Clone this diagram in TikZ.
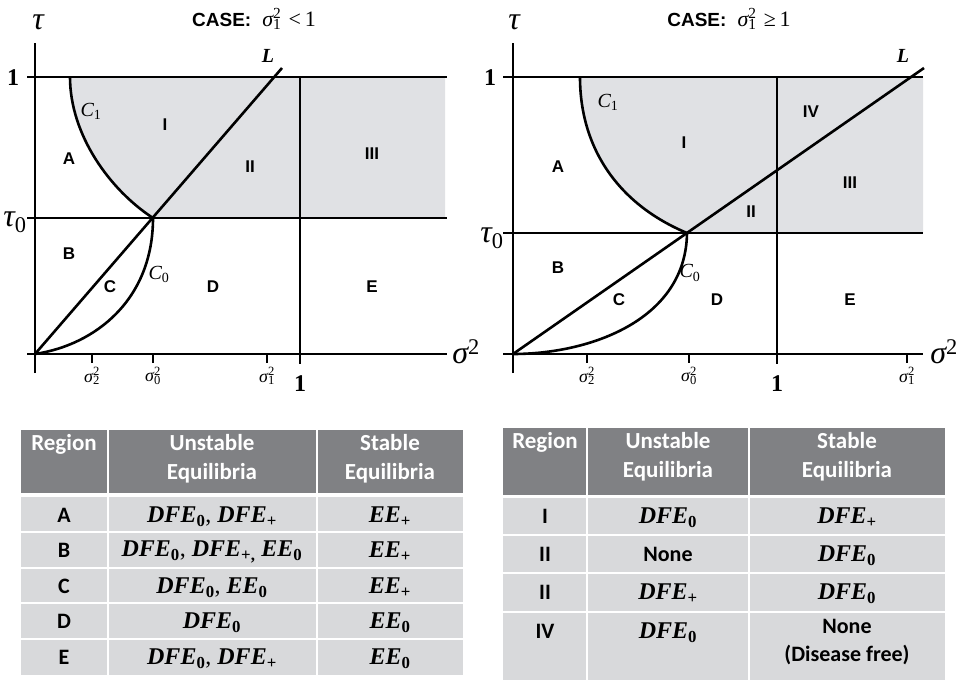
\documentclass[tikz,border=0pt]{standalone}
\usepackage{fontspec}
\setmainfont{Liberation Serif}
\setsansfont{Liberation Sans}
\newfontfamily\carl{Carlito}
\definecolor{shadegray}{RGB}{224,225,228}
\definecolor{hdrgray}{RGB}{128,129,132}
\definecolor{bodygray}{RGB}{216,217,219}
\newcommand\eqn[2]{\textbf{\textit{#1}}\textsubscript{\textbf{#2}}}
\newcommand\sigsq[1]{{\itshape σ}\makebox[0pt][l]{\textsuperscript{2}}\textsubscript{#1}}
\tikzset{
  axisline/.style={line width=2.8pt, line cap=butt},
  curveline/.style={line width=2.6pt},
  shaded/.style={fill=shadegray},
  reglabel/.style={font=\sffamily\bfseries\fontsize{17}{19}\selectfont, inner sep=0pt},
  axlabel/.style={font=\itshape\fontsize{32}{34}\selectfont, inner sep=0pt},
  onelabel/.style={font=\bfseries\fontsize{24}{26}\selectfont, inner sep=0pt},
  ticklabel/.style={font=\fontsize{18}{19}\selectfont, inner sep=0pt},
  curvelabel/.style={font=\itshape\fontsize{20}{22}\selectfont, inner sep=0pt},
  titlelabel/.style={font=\fontsize{22}{24}\selectfont, inner sep=0pt},
  hdrtext/.style={text=white, font=\carl\bfseries\fontsize{23}{29}\selectfont, align=center, inner sep=0pt, anchor=north},
  celltext/.style={font=\carl\bfseries\fontsize{22}{28}\selectfont, align=center, inner sep=0pt},
  eqtext/.style={font=\fontsize{24}{26}\selectfont, inner sep=0pt},
  sepline/.style={white, line width=2pt},
}
\begin{document}
\begin{tikzpicture}[x=1pt,y=-1pt]
\useasboundingbox (0,0) rectangle (959,680);
\fill[white] (0,0) rectangle (959,680);

% ================= LEFT PLOT =================
\coordinate (lO) at (35,354);
\coordinate (lJ) at (153,218);
\coordinate (lC1top) at (70,77);
\coordinate (lLend) at (282,68);
\fill[shaded] (lC1top) .. controls (70,135) and (110,190) .. (lJ) -- (445,218) -- (445,77) -- cycle;
\coordinate (lyb) at (35,373); \coordinate (lyt) at (35,43);
\coordinate (lxl) at (27,354); \coordinate (lxr) at (447,354);
\coordinate (ltl) at (27,77); \coordinate (ltr) at (447,77);
\coordinate (l0l) at (27,218); \coordinate (l0r) at (447,218);
\coordinate (lvt) at (300,77); \coordinate (lvb) at (300,364);
\draw[axisline] (lyb) -- (lyt);
\draw[axisline] (lxl) -- (lxr);
\draw[axisline] (ltl) -- (ltr);
\draw[axisline] (l0l) -- (l0r);
\draw[axisline] (lvt) -- (lvb);
\foreach \x/\n in {92/a,153/b,267/c} {
  \coordinate (lt\n1) at (\x,354); \coordinate (lt\n2) at (\x,363);
  \draw[axisline] (lt\n1) -- (lt\n2);
}
\draw[curveline] (lO) -- (lLend);
\draw[curveline] (lC1top) .. controls (70,135) and (110,190) .. (lJ);
\draw[curveline] (lO) .. controls (95,345) and (153,300) .. (lJ);

\node[titlelabel] (ltitle) at (254,19) {\textsf{\bfseries\fontsize{19}{20}\selectfont CASE:}\ \ \sigsq{1}\,\,<\,1};
\node[axlabel] (ltau) at (38,22) {τ};
\node[onelabel] (lone) at (13,78) {1};
\node[axlabel] (ltau0) at (15,222) {τ\textsubscript{\upshape 0}};
\node[axlabel] (lsig) at (466,352) {σ\textsuperscript{\upshape 2}};
\node[ticklabel] (ls2) at (92,376) {\sigsq{2}};
\node[ticklabel] (ls0) at (153,376) {\sigsq{0}};
\node[ticklabel] (ls1) at (267,376) {\sigsq{1}};
\node[onelabel] (lonex) at (300,384) {1};
\node[curvelabel] (lL) at (268,56) {\textbf{L}};
\node[curvelabel] (lC1) at (91,111) {C\textsubscript{\upshape 1}};
\node[curvelabel] (lC0) at (159,274) {C\textsubscript{\upshape 0}};
\node[reglabel] (lA) at (69,159) {A};
\node[reglabel] (lI) at (165,125) {I};
\node[reglabel] (lII) at (250,167) {II};
\node[reglabel] (lIII) at (372,154) {III};
\node[reglabel] (lB) at (69,254) {B};
\node[reglabel] (lC) at (110,287) {C};
\node[reglabel] (lD) at (213,287) {D};
\node[reglabel] (lE) at (372,287) {E};

% ================= RIGHT PLOT =================
\coordinate (rO) at (513,354);
\coordinate (rJ) at (687,233);
\coordinate (rC1top) at (580,77);
\coordinate (rLend) at (924,68);
\fill[shaded] (rC1top) .. controls (580,150) and (620,205) .. (rJ) -- (923,233) -- (923,77) -- cycle;
\coordinate (ryb) at (513,373); \coordinate (ryt) at (513,43);
\coordinate (rxl) at (503,354); \coordinate (rxr) at (923,354);
\coordinate (rtl) at (503,77); \coordinate (rtr) at (923,77);
\coordinate (r0l) at (503,233); \coordinate (r0r) at (923,233);
\coordinate (rvt) at (777,77); \coordinate (rvb) at (777,364);
\draw[axisline] (ryb) -- (ryt);
\draw[axisline] (rxl) -- (rxr);
\draw[axisline] (rtl) -- (rtr);
\draw[axisline] (r0l) -- (r0r);
\draw[axisline] (rvt) -- (rvb);
\foreach \x/\n in {587/a,689/b,907/c} {
  \coordinate (rt\n1) at (\x,354); \coordinate (rt\n2) at (\x,363);
  \draw[axisline] (rt\n1) -- (rt\n2);
}
\draw[curveline] (rO) -- (rLend);
\draw[curveline] (rC1top) .. controls (580,150) and (620,205) .. (rJ);
\draw[curveline] (rO) .. controls (590,354) and (686,320) .. (rJ);

\node[titlelabel] (rtitle) at (729,19) {\textsf{\bfseries\fontsize{19}{20}\selectfont CASE:}\ \ \sigsq{1}\,\,≥\,1};
\node[axlabel] (rtau) at (514,22) {τ};
\node[onelabel] (rone) at (490,78) {1};
\node[axlabel] (rtau0) at (492,238) {τ\textsubscript{\upshape 0}};
\node[axlabel] (rsig) at (944,352) {σ\textsuperscript{\upshape 2}};
\node[ticklabel] (rs2) at (587,376) {\sigsq{2}};
\node[ticklabel] (rs0) at (689,376) {\sigsq{0}};
\node[ticklabel] (rs1) at (907,376) {\sigsq{1}};
\node[onelabel] (ronex) at (777,384) {1};
\node[curvelabel] (rL) at (903,56) {\textbf{L}};
\node[curvelabel] (rC1) at (608,102) {C\textsubscript{\upshape 1}};
\node[curvelabel] (rC0) at (690,273) {C\textsubscript{\upshape 0}};
\node[reglabel] (rA) at (558,167) {A};
\node[reglabel] (rI) at (684,143) {I};
\node[reglabel] (rIV) at (811,112) {IV};
\node[reglabel] (rIII) at (850,183) {III};
\node[reglabel] (rII) at (751,212) {II};
\node[reglabel] (rB) at (558,268) {B};
\node[reglabel] (rC) at (619,300) {C};
\node[reglabel] (rD) at (717,300) {D};
\node[reglabel] (rE) at (850,300) {E};

% ================= LEFT TABLE =================
\fill[hdrgray] (21,430) rectangle (463,493);
\fill[bodygray] (21,497) rectangle (463,675);
\foreach \y in {532,568,603,639} {\draw[sepline] (21,\y) -- (463,\y);}
\draw[sepline] (108,430) -- (108,675);
\draw[sepline] (317,430) -- (317,675);
\node[hdrtext] (lh1) at (64,434) {Region};
\node[hdrtext] (lh2) at (212,434) {Unstable\\Equilibria};
\node[hdrtext] (lh3) at (390,434) {Stable\\Equilibria};
\node[celltext] (lrA) at (64,515) {A};
\node[celltext] (lrB) at (64,550) {B};
\node[celltext] (lrC) at (64,586) {C};
\node[celltext] (lrD) at (64,621) {D};
\node[celltext] (lrE) at (64,657) {E};
\node[eqtext] (luA) at (212,517) {\eqn{DFE}{0}, \eqn{DFE}{+}};
\node[eqtext] (luB) at (212,552) {\eqn{DFE}{0}, \eqn{DFE}{+,} \eqn{EE}{0}};
\node[eqtext] (luC) at (212,588) {\eqn{DFE}{0}, \eqn{EE}{0}};
\node[eqtext] (luD) at (212,623) {\eqn{DFE}{0}};
\node[eqtext] (luE) at (212,659) {\eqn{DFE}{0}, \eqn{DFE}{+}};
\node[eqtext] (lsA) at (390,517) {\eqn{EE}{+}};
\node[eqtext] (lsB) at (390,552) {\eqn{EE}{+}};
\node[eqtext] (lsC) at (390,588) {\eqn{EE}{+}};
\node[eqtext] (lsD) at (390,623) {\eqn{EE}{0}};
\node[eqtext] (lsE) at (390,659) {\eqn{EE}{0}};

% ================= RIGHT TABLE =================
\fill[hdrgray] (503,428) rectangle (945,495);
\fill[bodygray] (503,498) rectangle (945,680);
\foreach \y in {535,573,612} {\draw[sepline] (503,\y) -- (945,\y);}
\draw[sepline] (587,428) -- (587,680);
\draw[sepline] (749,428) -- (749,680);
\node[hdrtext] (rh1) at (545,432) {Region};
\node[hdrtext] (rh2) at (668,432) {Unstable\\Equilibria};
\node[hdrtext] (rh3) at (847,432) {Stable\\Equilibria};
\node[celltext] (rrI) at (545,516) {I};
\node[celltext] (rrII) at (545,554) {II};
\node[celltext] (rrIIb) at (545,592) {II};
\node[celltext] (rrIV) at (545,631) {IV};
\node[eqtext] (ruI) at (668,518) {\eqn{DFE}{0}};
\node[celltext] (ruII) at (668,554) {None};
\node[eqtext] (ruIIb) at (668,594) {\eqn{DFE}{+}};
\node[eqtext] (ruIV) at (668,633) {\eqn{DFE}{0}};
\node[eqtext] (rsI) at (847,518) {\eqn{DFE}{+}};
\node[eqtext] (rsII) at (847,556) {\eqn{DFE}{0}};
\node[eqtext] (rsIIb) at (847,594) {\eqn{DFE}{0}};
\node[celltext, anchor=north] (rsIV) at (847,619) {None\\(Disease free)};
\end{tikzpicture}
\end{document}
